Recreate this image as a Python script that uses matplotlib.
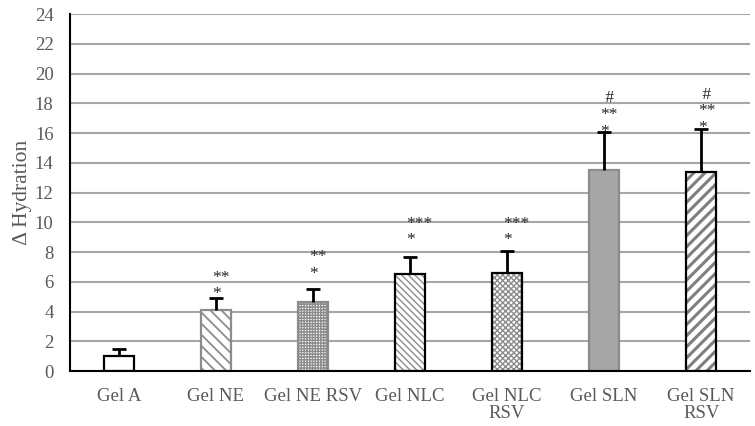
import matplotlib
matplotlib.use("Agg")
import matplotlib.pyplot as plt
import numpy as np

categories = ["Gel A", "Gel NE", "Gel NE RSV", "Gel NLC", "Gel NLC\nRSV", "Gel SLN", "Gel SLN\nRSV"]
values = [1.0, 4.1, 4.65, 6.5, 6.62, 13.5, 13.35]
errors = [0.5, 0.8, 0.85, 1.2, 1.45, 2.6, 2.95]
# significance marks, listed from the bottom line upwards
marks = [[], ["*", "**"], ["*", "**"], ["*", "***"], ["*", "***"], ["*", "**", " #"], ["*", "**", " #"]]
mark_y = [None, 5.5, 6.9, 9.15, 9.15, 16.45, 16.7]   # level of the lowest mark
yticks = list(range(0, 25, 2))

faces = ["white", "white", "white", "white", "white", "#a6a6a6", "white"]
edges = ["black", "#8c8c8c", "#8c8c8c", "black", "black", "#8c8c8c", "black"]
hatch_cols = ["white", "#8c8c8c", "#8c8c8c", "#8c8c8c", "#8c8c8c", "#a6a6a6", "#7f7f7f"]
hatches = [None, "\\\\\\", "++++++", "\\\\\\\\\\", "xxxxxx", None, "///"]
hatch_lw = [1.0, 1.3, 1.0, 1.0, 1.0, 1.0, 2.2]

plt.rcParams['font.family'] = ['Liberation Serif', 'DejaVu Serif']
fig = plt.figure(figsize=(7.55, 4.26), dpi=100)
ax = fig.add_axes([0.093, 0.129, 0.9, 0.838])

x = np.arange(len(categories))
for i in range(len(categories)):
    plt.rcParams['hatch.linewidth'] = hatch_lw[i]
    ax.bar(x[i], values[i], width=0.31, color=faces[i], edgecolor=hatch_cols[i],
           linewidth=0, hatch=hatches[i], zorder=3)
    ax.bar(x[i], values[i], width=0.31, fill=False, edgecolor=edges[i],
           linewidth=1.6, zorder=3.5)

eb = ax.errorbar(x, values, yerr=[np.zeros(len(values)), errors], fmt='none',
                 ecolor='black', elinewidth=2, capsize=5, capthick=2, zorder=4)
for cl in eb[1]:
    if np.allclose(cl.get_ydata(), values):
        cl.set_visible(False)

for i, lines in enumerate(marks):
    if not lines:
        continue
    txt = "\n".join(reversed(lines))
    ax.annotate(txt, xy=(x[i], mark_y[i]), xytext=(-2.5, -9.5),
                textcoords='offset points', ha='left', va='bottom',
                multialignment='left', linespacing=1.05,
                fontsize=12.5, color='#262626', zorder=5)

ax.set_ylim(0, 24)
ax.set_xlim(-0.5, len(categories) - 0.5)
ax.set_yticks(yticks)
ax.yaxis.grid(True, color='#a6a6a6', linewidth=1.5, zorder=0)
ax.set_axisbelow(True)
for s in ['top', 'right']:
    ax.spines[s].set_visible(False)
ax.spines['left'].set_linewidth(1.5)
ax.spines['bottom'].set_linewidth(1.5)
ax.spines['bottom'].set_zorder(6)
ax.tick_params(axis='y', length=0, labelsize=13.5, labelcolor='#595959', pad=12)
ax.tick_params(axis='x', length=0, labelsize=13.5, labelcolor='#595959', pad=12)
ax.set_xticks(x)
ax.set_xticklabels(categories, va='top', linespacing=1.0)
ax.set_ylabel("Δ Hydration", fontsize=15.5, color='#595959', labelpad=2)

fig.savefig("out.png", dpi=100)
